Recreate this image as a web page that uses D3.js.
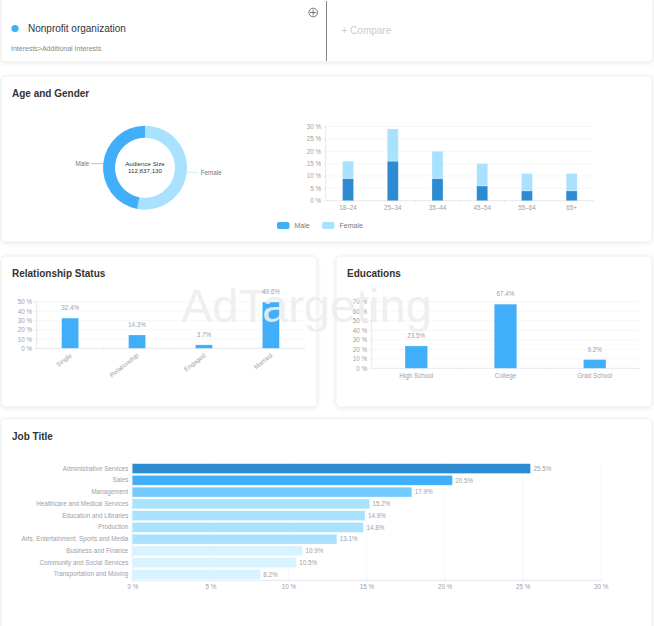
<!DOCTYPE html>
<html>
<head>
<meta charset="utf-8">
<script src="https://cdn.jsdelivr.net/npm/d3@7"></script>
<style>
body { margin: 0; background: #fff; font-family: "Liberation Sans", Arial, sans-serif; overflow: hidden; }
svg { display: block; }
.card { fill: #fff; stroke: #f0f0f2; stroke-width: 1; filter: drop-shadow(0 1px 2px rgba(0,0,0,0.08)); }
.title { font-size: 10px; font-weight: bold; fill: #333; }
.tick text, .lbl { font-size: 6.3px; fill: #a0a0a8; }
.bar { stroke: #fff; stroke-opacity: 0.35; stroke-width: 0.7; }
</style>
</head>
<body>
<div id="chart"></div>
<script>
var audienceName = "Nonprofit organization";
var audiencePath = "Interests>Additional Interests";
var audienceSize = "112,837,130";

var genders = ["Female", "Male"];
var genderShare = [53, 47];

var ageGroups = ["18–24", "25–34", "35–44", "45–54", "55–64", "65+"];
var ageMale = [9, 16, 9, 6, 4, 4];
var ageFemale = [7, 13, 11, 9, 7, 7];
var ageTicks = [0, 5, 10, 15, 20, 25, 30];

var relationCats = ["Single", "Relationship", "Engaged", "Married"];
var relationVals = [32.4, 14.3, 3.7, 49.6];
var relationTicks = [0, 10, 20, 30, 40, 50];

var eduCats = ["High School", "College", "Grad School"];
var eduVals = [23.5, 67.4, 9.2];
var eduTicks = [0, 10, 20, 30, 40, 50, 60, 70];

var jobCats = ["Administrative Services", "Sales", "Management", "Healthcare and Medical Services",
    "Education and Libraries", "Production", "Arts, Entertainment, Sports and Media",
    "Business and Finance", "Community and Social Services", "Transportation and Moving"];
var jobVals = [25.5, 20.5, 17.9, 15.2, 14.9, 14.8, 13.1, 10.9, 10.5, 8.2];
var jobTicks = [0, 5, 10, 15, 20, 25, 30];

var BLUE = "#40aef8", DARK = "#2d8bd2", LIGHT = "#a8e2ff", MID = "#73cbff", PALE = "#d6f3ff";
var GRID = "#f2f3f6", AXIS = "#e6e8ee";

var svg = d3.select("#chart").append("svg").attr("width", 654).attr("height", 626);

function card(x, y, w, h, title)
{
    svg.append("rect").attr("class", "card")
        .attr("x", x).attr("y", y).attr("width", w).attr("height", h).attr("rx", 4);
    if (title)
        svg.append("text").attr("class", "title").attr("x", x + 11).attr("y", y + 21).text(title);
}

// vertical bar frame: returns the scales, draws grid + axes
function columnFrame(cats, ticks, left, right, top, bottom, yMax)
{
    var x = d3.scaleBand().domain(cats).range([left, right]);
    var y = d3.scaleLinear().domain([0, yMax]).range([bottom, top]);

    svg.append("g").selectAll("line").data(ticks.slice(1)).join("line")
        .attr("x1", left).attr("x2", right)
        .attr("y1", function(d) { return y(d); }).attr("y2", function(d) { return y(d); })
        .attr("stroke", GRID).attr("stroke-width", 0.7);

    var yAxis = svg.append("g").attr("transform", "translate(" + left + ",0)")
        .call(d3.axisLeft(y).tickValues(ticks).tickSize(2).tickPadding(2.5)
            .tickFormat(function(d) { return d + " %"; }));
    yAxis.selectAll("line").attr("stroke", AXIS);
    yAxis.select(".domain").attr("stroke", AXIS).attr("d", "M0," + top + "V" + bottom);

    var xAxis = svg.append("g").attr("transform", "translate(0," + bottom + ")")
        .call(d3.axisBottom(x).tickSize(0).tickPadding(5));
    xAxis.select(".domain").attr("stroke", AXIS).attr("d", "M" + left + ",0H" + right);

    // ticks sit on the band edges, not the centres
    svg.append("g").selectAll("line").data(cats).join("line")
        .attr("x1", function(d) { return x(d) + x.bandwidth(); })
        .attr("x2", function(d) { return x(d) + x.bandwidth(); })
        .attr("y1", bottom).attr("y2", bottom + 2)
        .attr("stroke", AXIS);

    return { x: x, y: y, xAxis: xAxis };
}

function valueColumns(cats, vals, frame, barW)
{
    var mid = function(i) { return frame.x(cats[i]) + frame.x.bandwidth() / 2; };
    svg.append("g").selectAll("rect").data(vals).join("rect")
        .attr("class", "bar")
        .attr("x", function(d, i) { return mid(i) - barW / 2; })
        .attr("y", function(d) { return frame.y(d); })
        .attr("width", barW)
        .attr("height", function(d) { return frame.y(0) - frame.y(d); })
        .attr("fill", BLUE);
}

// value labels stay readable on top of the watermark, so these go in last
function valueLabels(cats, vals, frame)
{
    svg.append("g").selectAll("text").data(vals).join("text")
        .attr("class", "lbl")
        .attr("text-anchor", "middle")
        .attr("x", function(d, i) { return frame.x(cats[i]) + frame.x.bandwidth() / 2; })
        .attr("y", function(d) { return frame.y(d) - 8; })
        .text(function(d) { return d.toFixed(1) + "%"; });
}

//////////////////////////////////////////////////////////////////////////////
// header card

card(1, -4, 652, 66);
svg.append("line").attr("x1", 326.5).attr("x2", 326.5).attr("y1", 1).attr("y2", 61)
    .attr("stroke", "#666").attr("stroke-width", 0.8);
svg.append("circle").attr("cx", 15).attr("cy", 28.5).attr("r", 3.6).attr("fill", BLUE);
svg.append("text").attr("x", 28).attr("y", 32).style("font-size", "10px").attr("fill", "#333").text(audienceName);
svg.append("text").attr("x", 11).attr("y", 51).style("font-size", "7px").attr("fill", "#888").text(audiencePath);
svg.append("text").attr("x", 341.5).attr("y", 34).style("font-size", "10px").attr("fill", "#c9ccd1").text("+ Compare");
svg.append("circle").attr("cx", 313.2).attr("cy", 12.5).attr("r", 4.3)
    .attr("fill", "none").attr("stroke", "#444").attr("stroke-width", 0.7);
svg.append("path").attr("d", "M313.2,9.5V15.5M310.2,12.5H316.2").attr("stroke", "#444").attr("stroke-width", 0.7);

//////////////////////////////////////////////////////////////////////////////
// age and gender

card(1, 76, 651, 166, "Age and Gender");

var donutX = 145, donutY = 167.7;
var pie = d3.pie().sort(null);
var arc = d3.arc().innerRadius(30).outerRadius(42);
var donut = svg.append("g").attr("transform", "translate(" + donutX + "," + donutY + ")");
donut.selectAll("path").data(pie(genderShare)).join("path")
    .attr("d", arc)
    .attr("fill", function(d, i) { return i === 0 ? LIGHT : BLUE; });

// leader lines come out of the slice, placed from the arc maths
pie(genderShare).forEach(function(s, i) {
    var a = i === 0 ? 1.68 : 4.81;
    var sx = Math.sin(a), cy = -Math.cos(a);
    var dir = sx > 0 ? 1 : -1;
    donut.append("line")
        .attr("x1", sx * 42).attr("y1", cy * 42)
        .attr("x2", sx * 42 + dir * 12).attr("y2", cy * 42)
        .attr("stroke", i === 0 ? LIGHT : BLUE).attr("stroke-width", 0.6);
    donut.append("text").attr("class", "lbl")
        .style("fill", "#777")
        .attr("text-anchor", dir > 0 ? "start" : "end")
        .attr("x", sx * 42 + dir * 14).attr("y", cy * 42 + 2.3)
        .text(genders[i]);
});
donut.append("text").attr("text-anchor", "middle").attr("y", -1.5)
    .style("font-size", "6.2px").attr("fill", "#333").text("Audience Size");
donut.append("text").attr("text-anchor", "middle").attr("y", 5.5)
    .style("font-size", "6.2px").attr("fill", "#333").text(audienceSize);

var ageFrame = columnFrame(ageGroups, ageTicks, 325.7, 594, 126.5, 200.7, 30);
var ageBarW = 11;
var ageG = svg.append("g");
ageG.selectAll("rect.m").data(ageMale).join("rect").attr("class", "m bar")
    .attr("x", function(d, i) { return ageFrame.x(ageGroups[i]) + ageFrame.x.bandwidth() / 2 - ageBarW / 2; })
    .attr("y", function(d) { return ageFrame.y(d); })
    .attr("width", ageBarW)
    .attr("height", function(d) { return ageFrame.y(0) - ageFrame.y(d); })
    .attr("fill", DARK);
ageG.selectAll("rect.f").data(ageFemale).join("rect").attr("class", "f bar")
    .attr("x", function(d, i) { return ageFrame.x(ageGroups[i]) + ageFrame.x.bandwidth() / 2 - ageBarW / 2; })
    .attr("y", function(d, i) { return ageFrame.y(d + ageMale[i]); })
    .attr("width", ageBarW)
    .attr("height", function(d) { return ageFrame.y(0) - ageFrame.y(d); })
    .attr("fill", LIGHT);

var legendItems = [["Male", BLUE, 277], ["Female", LIGHT, 322]];
legendItems.forEach(function(l) {
    svg.append("rect").attr("x", l[2]).attr("y", 222).attr("width", 12.5).attr("height", 7)
        .attr("rx", 2).attr("fill", l[1]);
    svg.append("text").attr("x", l[2] + 17.5).attr("y", 228).style("font-size", "7px")
        .attr("fill", "#777").text(l[0]);
});

//////////////////////////////////////////////////////////////////////////////
// relationship status + educations

card(1, 256, 316, 151, "Relationship Status");
var relFrame = columnFrame(relationCats, relationTicks, 36.7, 304.3, 301.7, 348.3, 50);
relFrame.xAxis.selectAll("text")
    .attr("text-anchor", "end")
    .attr("y", 0)
    .attr("dy", 0)
    .attr("transform", "translate(2,8) rotate(-38)");
valueColumns(relationCats, relationVals, relFrame, 17);

card(336, 256, 316, 151, "Educations");
var eduFrame = columnFrame(eduCats, eduTicks, 371.7, 639.3, 301.7, 368.3, 70);
valueColumns(eduCats, eduVals, eduFrame, 22.5);

//////////////////////////////////////////////////////////////////////////////
// job title

card(1, 418.5, 651, 215, "Job Title");

var jobLeft = 132.3, jobRight = 600.7, jobTop = 462.7, jobBottom = 580.3;
var jobX = d3.scaleLinear().domain([0, 30]).range([jobLeft, jobRight]);
var jobY = d3.scaleBand().domain(jobCats).range([jobTop, jobBottom]).paddingInner(0.17).paddingOuter(0.085);

svg.append("g").selectAll("line").data(jobTicks.slice(1)).join("line")
    .attr("x1", function(d) { return jobX(d); }).attr("x2", function(d) { return jobX(d); })
    .attr("y1", jobTop).attr("y2", jobBottom)
    .attr("stroke", GRID).attr("stroke-width", 0.7);

var jobXAxis = svg.append("g").attr("transform", "translate(0," + jobBottom + ")")
    .call(d3.axisBottom(jobX).tickValues(jobTicks).tickSize(2).tickPadding(2)
        .tickFormat(function(d) { return d + " %"; }));
jobXAxis.selectAll("line").attr("stroke", AXIS);
jobXAxis.select(".domain").attr("stroke", AXIS).attr("d", "M" + jobLeft + ",0H" + jobRight);

var jobYAxis = svg.append("g").attr("transform", "translate(" + jobLeft + ",0)")
    .call(d3.axisLeft(jobY).tickSize(0).tickPadding(4));
jobYAxis.select(".domain").attr("stroke", AXIS).attr("d", "M0," + jobTop + "V" + jobBottom);

function jobColor(i)
{
    if (i === 0) return DARK;
    if (i === 1) return BLUE;
    if (i === 2) return MID;
    return i < 7 ? LIGHT : PALE;
}

svg.append("g").selectAll("rect").data(jobVals).join("rect")
    .attr("class", "bar")
    .attr("x", jobLeft)
    .attr("y", function(d, i) { return jobY(jobCats[i]); })
    .attr("width", function(d) { return jobX(d) - jobLeft; })
    .attr("height", jobY.bandwidth())
    .attr("fill", function(d, i) { return jobColor(i); });

svg.append("g").selectAll("text").data(jobVals).join("text")
    .attr("class", "lbl")
    .attr("x", function(d) { return jobX(d) + 3; })
    .attr("y", function(d, i) { return jobY(jobCats[i]) + jobY.bandwidth() / 2 + 2.3; })
    .text(function(d) { return d.toFixed(1) + "%"; });

//////////////////////////////////////////////////////////////////////////////
// watermark sits over the bars and axis labels

svg.append("text").attr("x", 181).attr("y", 322)
    .style("font-size", "47px")
    .attr("fill", "#eee").attr("fill-opacity", 0.92)
    .text("AdTargeting");

valueLabels(relationCats, relationVals, relFrame);
valueLabels(eduCats, eduVals, eduFrame);
</script>
</body>
</html>
